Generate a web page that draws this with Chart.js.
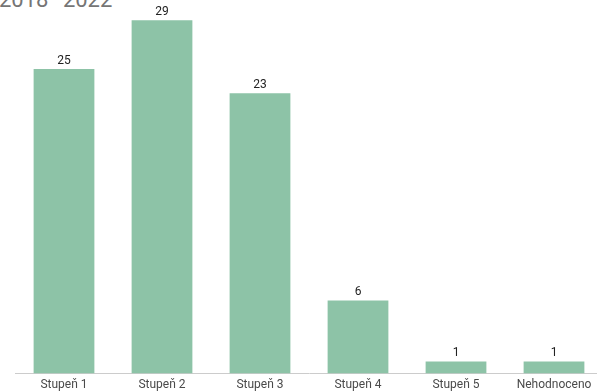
<!DOCTYPE html>
<html>
<head>
<meta charset="utf-8">
<script src="https://cdn.jsdelivr.net/npm/chart.js@4.4.1/dist/chart.umd.min.js"></script>
<style>
  html, body { margin: 0; padding: 0; background: #fff; overflow: hidden; }
  body { width: 597px; height: 391px; position: relative; }
  #title {
    position: absolute; left: -1px; top: -11px;
    font-family: Roboto, sans-serif; font-size: 22px; line-height: 22px;
    color: #757575; white-space: nowrap;
  }
  #wrap { position: absolute; left: 0; top: 0; width: 603px; height: 396px; }
</style>
</head>
<body>
<div id="title">2018–2022</div>
<div id="wrap"><canvas id="chart"></canvas></div>
<script>
// data
const categories = ['Stupeň 1', 'Stupeň 2', 'Stupeň 3', 'Stupeň 4', 'Stupeň 5', 'Nehodnoceno'];
const counts = [25, 29, 23, 6, 1, 1];

// value labels above bars
const valueLabels = {
  id: 'valueLabels',
  afterDatasetsDraw(chart) {
    const ctx = chart.ctx;
    const meta = chart.getDatasetMeta(0);
    ctx.save();
    ctx.font = '12px Roboto, sans-serif';
    ctx.fillStyle = '#222';
    ctx.textAlign = 'center';
    ctx.textBaseline = 'bottom';
    meta.data.forEach((bar, i) => {
      ctx.fillText(counts[i], bar.x, bar.y - 2);
    });
    ctx.restore();
  }
};

new Chart(document.getElementById('chart'), {
  type: 'bar',
  data: {
    labels: categories,
    datasets: [{
      data: counts,
      backgroundColor: '#8dc3a7',
      categoryPercentage: 1,
      barPercentage: 0.62
    }]
  },
  options: {
    responsive: true,
    maintainAspectRatio: false,
    animation: false,
    layout: { padding: { left: 15, top: 8, right: 0, bottom: 0 } },
    plugins: {
      legend: { display: false },
      tooltip: { enabled: false }
    },
    scales: {
      x: {
        grid: { display: false, drawTicks: false },
        border: { display: true, color: '#cccccc', width: 1 },
        ticks: {
          color: '#4a4a4a',
          font: { family: 'Roboto, sans-serif', size: 12 },
          padding: 4,
          maxRotation: 0
        }
      },
      y: {
        display: false,
        min: 0,
        max: 30
      }
    }
  },
  plugins: [valueLabels]
});
</script>
</body>
</html>
